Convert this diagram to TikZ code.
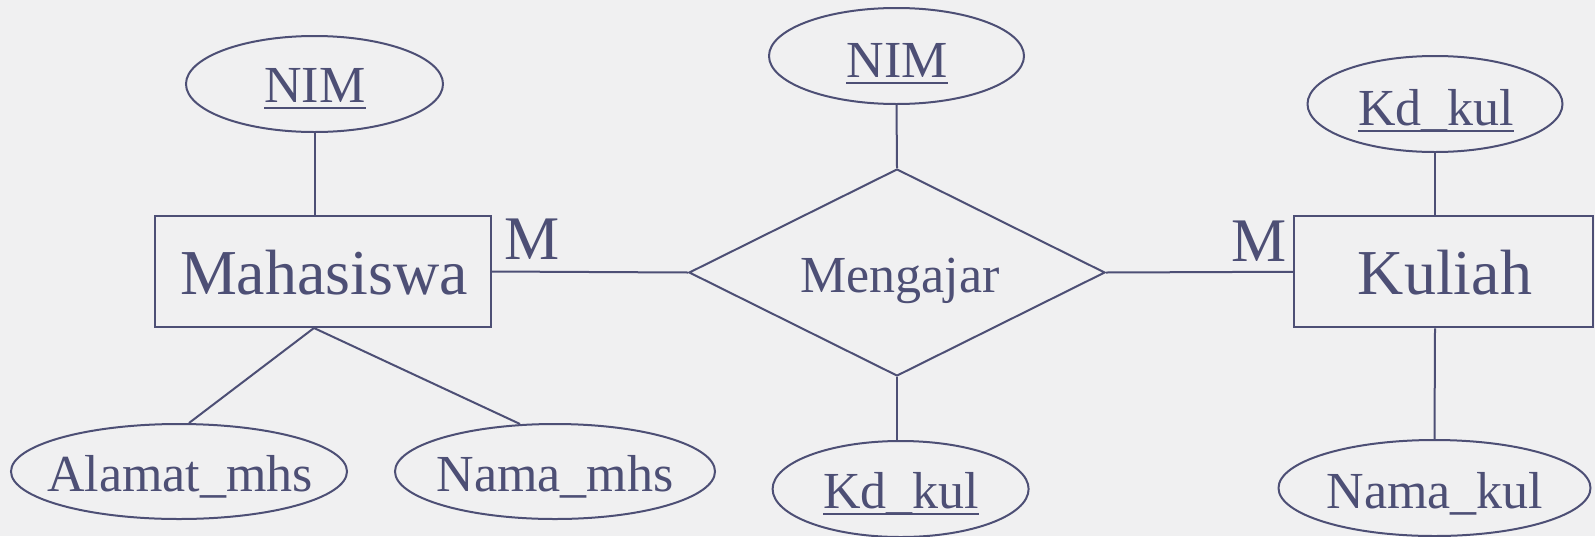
\documentclass[tikz,border=0pt]{standalone}
\usepackage{fontspec}
\setmainfont{Liberation Serif}
\usetikzlibrary{shapes.geometric,calc}
\definecolor{ink}{HTML}{4D4F75}
\definecolor{paper}{HTML}{F0F0F1}
\tikzset{
  attr/.style={ellipse,draw=ink,line width=1.5pt,inner sep=0pt},
  entity/.style={rectangle,draw=ink,line width=1.5pt,inner sep=0pt},
  rel/.style={diamond,draw=ink,line width=1.5pt,inner sep=0pt,aspect=2},
  smalltext/.style={anchor=base,inner sep=0pt,text=ink,font=\fontsize{39pt}{44pt}\selectfont},
  bigtext/.style={anchor=base,inner sep=0pt,text=ink,font=\fontsize{48pt}{54pt}\selectfont},
  card/.style={anchor=base,inner sep=0pt,text=ink,font=\fontsize{46.5pt}{50pt}\selectfont},
  conn/.style={draw=ink,line width=1.5pt}
}
\newcommand{\ul}[1]{\setbox0\hbox{#1}\rlap{\color{ink}\raisebox{-5.6pt}{\rule{\wd0}{1.6pt}}}\box0}
\begin{document}
\begin{tikzpicture}[x=0.75pt,y=-0.75pt]
\fill[paper] (0,0) rectangle (1595,536);
\useasboundingbox (0,0) rectangle (1595,536);
% entities and relationship
\node[entity,minimum width=252pt,minimum height=83.25pt] (maha) at (323,271.5) {};
\node[entity,minimum width=224.25pt,minimum height=83.6pt] (kul) at (1443.5,271.75) {};
\node[rel,minimum width=312pt,minimum height=155.25pt] (mg) at (897,272.5) {};
\node[bigtext] (mahat) at (324,294) {Mahasiswa};
\node[bigtext] (kult) at (1445,294) {Kuliah};
\node[smalltext] (mgt) at (900,292) {Mengajar};
% attributes
\node[attr,minimum width=192.75pt,minimum height=72pt] (nim1) at (314.5,84) {};
\node[attr,minimum width=191.25pt,minimum height=72pt] (nim2) at (896.5,56) {};
\node[attr,minimum width=191.25pt,minimum height=72pt] (kd1) at (1435,104) {};
\node[attr,minimum width=252pt,minimum height=71.25pt] (al) at (179,471.5) {};
\node[attr,minimum width=240pt,minimum height=71.25pt] (nm) at (555,471.5) {};
\node[attr,minimum width=192pt,minimum height=72pt] (kd2) at (900.6,489) {};
\node[attr,minimum width=234pt,minimum height=72pt] (nk) at (1434.5,488) {};
\node[smalltext] (nim1t) at (315,102) {\ul{NIM}};
\node[smalltext] (nim2t) at (897,77) {\ul{NIM}};
\node[smalltext] (kd1t) at (1436,125) {\ul{Kd\_kul}};
\node[smalltext] (alt) at (180,491.5) {Alamat\_mhs};
\node[smalltext] (nmt) at (555,491.5) {Nama\_mhs};
\node[smalltext] (kd2t) at (901,508) {\ul{Kd\_kul}};
\node[smalltext] (nkt) at (1435,508) {Nama\_kul};
% cardinalities
\node[card] (m1) at (532,259.5) {M};
\node[card] (m2) at (1259,261.5) {M};
% connectors
\coordinate (mahabot) at ($(maha.south)+(-9,0)$);
\draw[conn] (nim1.south) -- (nim1.south |- maha.north);
\draw[conn] (mahabot) -- ($(al.north)+(10,0)$);
\draw[conn] (mahabot) -- ($(nm.north)+(-35,1)$);
\draw[conn] (maha.east) -- (mg.west);
\draw[conn] (mg.east) -- (kul.west);
\draw[conn] (nim2.south) -- (mg.north);
\draw[conn] (mg.south) -- (mg.south |- kd2.north);
\draw[conn] (kd1.south) -- (kd1.south |- kul.north);
\draw[conn] (kd1.south |- kul.south) -- (nk.north);
\end{tikzpicture}
\end{document}
